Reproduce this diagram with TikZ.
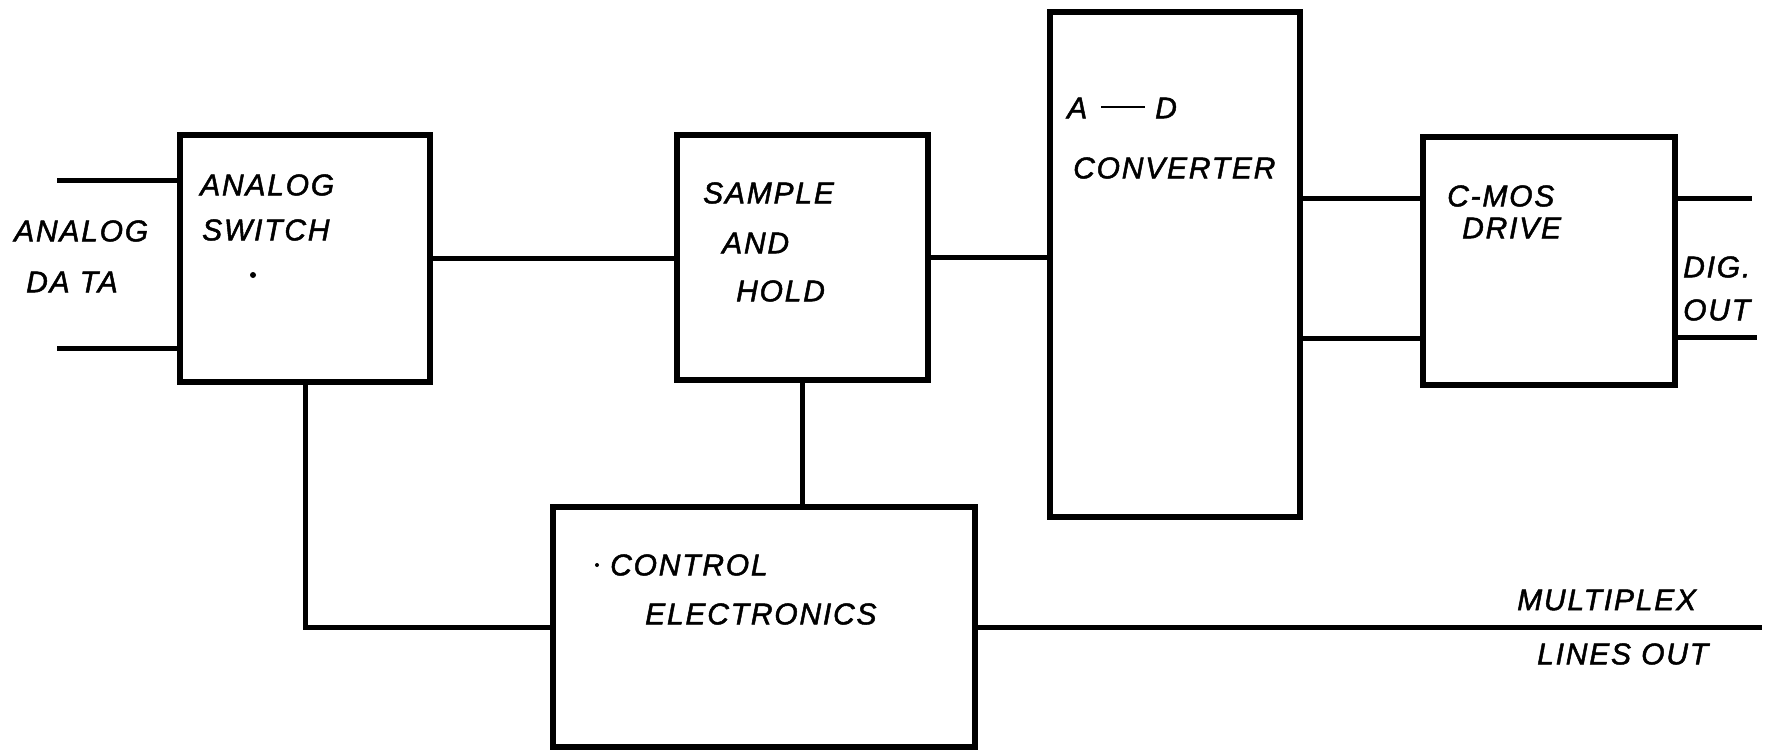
\documentclass[tikz,border=0pt]{standalone}
\usepackage{fontspec}
\setmainfont{Liberation Sans}
\newfontfamily\lblfont[LetterSpace=6,FakeBold=1.6]{Liberation Sans}
\begin{document}
\begin{tikzpicture}[x=1pt,y=-1pt,
  blk/.style={draw, line width=6pt, rectangle, inner sep=0pt},
  wire/.style={line width=5pt},
  lbl/.style={anchor=west, inner sep=0pt, font=\lblfont\itshape\fontsize{30}{30}\selectfont},
  speck/.style={fill, circle, inner sep=0pt, minimum size=6pt}]
\useasboundingbox (0,0) rectangle (1767,752);
% blocks
\node[blk, minimum width=250pt, minimum height=247pt] (sw) at (305,258.5) {};
\node[blk, minimum width=251pt, minimum height=245pt] (sh) at (802.5,257.5) {};
\node[blk, minimum width=250pt, minimum height=505pt] (ad) at (1175,264.5) {};
\node[blk, minimum width=252pt, minimum height=248pt] (cm) at (1549,261) {};
\node[blk, minimum width=422pt, minimum height=240pt] (ce) at (764,627) {};
% labels
\node[lbl] (swa) at (200,185) {ANALOG};
\node[lbl] (swb) at (202,230) {SWITCH};
\node[lbl] (sha) at (703,193) {SAMPLE};
\node[lbl] (shb) at (722,243) {AND};
\node[lbl] (shc) at (736,291) {HOLD};
\node[lbl] (ada) at (1067,108) {A\hspace{14pt}\rule[10pt]{44pt}{2.8pt}\hspace{10pt}D};
\node[lbl] (adb) at (1073,168) {CONVERTER};
\node[lbl] (cma) at (1447,196) {C-MOS};
\node[lbl] (cmb) at (1462,228) {DRIVE};
\node[lbl] (cea) at (610,565) {CONTROL};
\node[lbl] (ceb) at (645,614) {ELECTRONICS};
\node[lbl] (ina) at (14,231) {ANALOG};
\node[lbl] (inb) at (26,282) {DA TA};
\node[lbl] (outa) at (1683,267) {DIG.};
\node[lbl] (outb) at (1683,310) {OUT};
\node[lbl] (mxa) at (1517,600) {MULTIPLEX};
\node[lbl] (mxb) at (1537,654) {LINES OUT};
% specks
\node[speck] (d1) at (253,275) {};
\node[speck, minimum size=4pt] (d2) at (597,565) {};
% free ends
\coordinate (in1) at (57,180);
\coordinate (in2) at (57,348);
\coordinate (ad1) at (1300,198);
\coordinate (ad2) at (1300,338);
\coordinate (o1) at (1752,198);
\coordinate (o2) at (1757,337);
\coordinate (mx) at (1762,627);
% connectors
\draw[wire] (in1) -- (in1 -| sw.west);
\draw[wire] (in2) -- (in2 -| sw.west);
\draw[wire] (sw.east) -- (sw.east -| sh.west);
\draw[wire] (sh.east) -- (sh.east -| ad.west);
\draw[wire] (ad1) -- (ad1 -| cm.west);
\draw[wire] (ad2) -- (ad2 -| cm.west);
\draw[wire] (o1 -| cm.east) -- (o1);
\draw[wire] (o2 -| cm.east) -- (o2);
\draw[wire] (sh.south) -- (sh.south |- ce.north);
\draw[wire] (sw.south) -- (sw.south |- ce.west) -- (ce.west);
\draw[wire] (ce.east) -- (mx);
\end{tikzpicture}
\end{document}
